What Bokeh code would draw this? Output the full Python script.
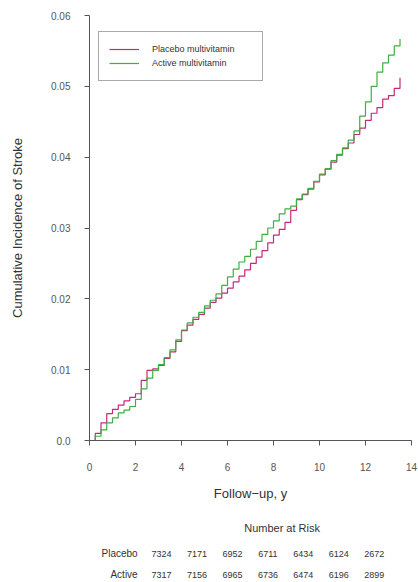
from bokeh.plotting import figure
from bokeh.models import Range1d, FixedTicker, Legend, ColumnDataSource
from bokeh.layouts import column
from bokeh.core.properties import value
from bokeh.embed import file_html
from bokeh.resources import INLINE

# ---- data ----
years = [0, 0.25, 0.5, 0.75, 1.0, 1.25, 1.5, 1.75, 2.0, 2.25, 2.5, 2.75, 3.0, 3.25, 3.5, 3.75,
         4.0, 4.25, 4.5, 4.75, 5.0, 5.25, 5.5, 5.75, 6.0, 6.25, 6.5, 6.75, 7.0, 7.25, 7.5, 7.75,
         8.0, 8.25, 8.5, 8.75, 9.0, 9.25, 9.5, 9.75, 10.0, 10.25, 10.5, 10.75, 11.0, 11.25, 11.5,
         11.75, 12.0, 12.25, 12.5, 12.75, 13.0, 13.25, 13.5]
placebo = [0, 0.0010, 0.0025, 0.0038, 0.0044, 0.0050, 0.0056, 0.0061, 0.0066, 0.0085, 0.0099,
           0.0101, 0.0106, 0.0116, 0.0125, 0.0140, 0.0155, 0.0163, 0.0171, 0.0178, 0.0187,
           0.0195, 0.0201, 0.0208, 0.0215, 0.0224, 0.0232, 0.0241, 0.0250, 0.0259, 0.0268,
           0.0279, 0.0290, 0.0298, 0.0308, 0.0325, 0.0340, 0.0347, 0.0355, 0.0365, 0.0375,
           0.0383, 0.0393, 0.0403, 0.0412, 0.0420, 0.0432, 0.0441, 0.0452, 0.0462, 0.0470,
           0.0482, 0.0487, 0.0497, 0.0512]
active = [0, 0.0006, 0.0015, 0.0025, 0.0032, 0.0039, 0.0043, 0.0048, 0.0058, 0.0073, 0.0088,
          0.0099, 0.0107, 0.0117, 0.0128, 0.0142, 0.0156, 0.0166, 0.0174, 0.0181, 0.0190,
          0.0198, 0.0207, 0.0219, 0.0231, 0.0242, 0.0252, 0.0260, 0.0270, 0.0281, 0.0291,
          0.0300, 0.0310, 0.0320, 0.0327, 0.0331, 0.0341, 0.0348, 0.0356, 0.0366, 0.0376,
          0.0384, 0.0395, 0.0404, 0.0413, 0.0424, 0.0437, 0.0458, 0.0478, 0.0500, 0.0520,
          0.0533, 0.0544, 0.0557, 0.0567]

risk_times = [0, 2, 4, 6, 8, 10, 12]
risk_placebo = ["7324", "7171", "6952", "6711", "6434", "6124", "2672"]
risk_active = ["7317", "7156", "6965", "6736", "6474", "6196", "2899"]
row_labels = ["Placebo", "Active"]

x_ticks = [0, 2, 4, 6, 8, 10, 12, 14]
y_ticks = [0, 0.01, 0.02, 0.03, 0.04, 0.05, 0.06]

PLACEBO_COLOR = "#c8287a"
ACTIVE_COLOR = "#3cb043"
FONT = "Liberation Sans"

W = 418
LEFT = 89
RIGHT = 7
XMAX = 14
ppy = (W - LEFT - RIGHT) / XMAX

p = figure(width=W, height=505, output_backend="svg", toolbar_location=None,
           x_range=Range1d(0, XMAX), y_range=Range1d(0, 0.06),
           min_border_left=LEFT, min_border_right=RIGHT, min_border_top=15,
           min_border_bottom=65)
p.outline_line_color = None
p.grid.visible = False

r1 = p.step(years, placebo, mode="after", line_color=PLACEBO_COLOR, line_width=1.2)
r2 = p.step(years, active, mode="after", line_color=ACTIVE_COLOR, line_width=1.2)

for ax in (p.xaxis[0], p.yaxis[0]):
    ax.axis_line_color = "#555555"
    ax.major_tick_line_color = "#555555"
    ax.minor_tick_line_color = None
    ax.major_tick_out = 5
    ax.major_tick_in = 0
    ax.major_label_text_font = FONT
    ax.major_label_text_font_size = "10px"
    ax.major_label_text_color = "#555555"
    ax.axis_label_text_font = FONT
    ax.axis_label_text_font_size = "13px"
    ax.axis_label_text_font_style = "normal"
    ax.axis_label_text_color = "#333333"

p.xaxis.ticker = FixedTicker(ticks=x_ticks)
p.yaxis.ticker = FixedTicker(ticks=y_ticks)
p.yaxis.major_label_overrides = {0: "0.0"}
p.yaxis.major_label_orientation = "horizontal"
p.xaxis.axis_label = "Follow\u2212up, y"
p.yaxis.axis_label = "Cumulative Incidence of Stroke"
p.xaxis.major_label_standoff = 17
p.xaxis.axis_label_standoff = 12
p.yaxis.major_label_standoff = 14
p.yaxis.axis_label_standoff = 23

legend = Legend(items=[("Placebo multivitamin", [r1]), ("Active multivitamin", [r2])],
                location=(9, 425 - 18 - 48))
legend.padding = 10
legend.margin = 0
legend.spacing = 0
legend.glyph_width = 30
legend.glyph_height = 14
legend.label_height = 14
legend.label_width = 100
legend.label_standoff = 13
legend.label_text_font = FONT
legend.label_text_font_size = "9px"
legend.label_text_color = "#333333"
legend.border_line_color = "#555555"
legend.border_line_width = 1
legend.background_fill_alpha = 1
p.add_layout(legend)

# ---- number at risk table ----
H2 = 77
q = figure(width=W, height=H2, output_backend="svg", toolbar_location=None,
           x_range=Range1d(-LEFT / ppy, (W - LEFT) / ppy), y_range=Range1d(H2, 0),
           min_border=0, min_border_left=0, min_border_right=0,
           min_border_top=0, min_border_bottom=0)
q.axis.visible = False
q.grid.visible = False
q.outline_line_color = None

q.text(x=[7.0], y=[22], text=["Number at Risk"], text_align="center",
       text_baseline="middle", text_font=value(FONT), text_font_size="11px",
       text_color="#333333")

shift = 0.2
src_p = ColumnDataSource(dict(x=[t + shift for t in risk_times], y=[48] * len(risk_times),
                              t=risk_placebo))
src_a = ColumnDataSource(dict(x=[t + shift for t in risk_times], y=[69] * len(risk_times),
                              t=risk_active))
for src in (src_p, src_a):
    q.text(x="x", y="y", text="t", source=src, text_align="center", text_baseline="middle",
           text_font=value(FONT), text_font_size="9px", text_color="#333333")

q.text(x=[-1.15, -1.15], y=[48, 69], text=row_labels, text_align="right",
       text_baseline="middle", text_font=value(FONT), text_font_size="10px",
       text_color="#333333")

layout = column(p, q, spacing=0)
open("out.html", "w").write(file_html(layout, INLINE))
